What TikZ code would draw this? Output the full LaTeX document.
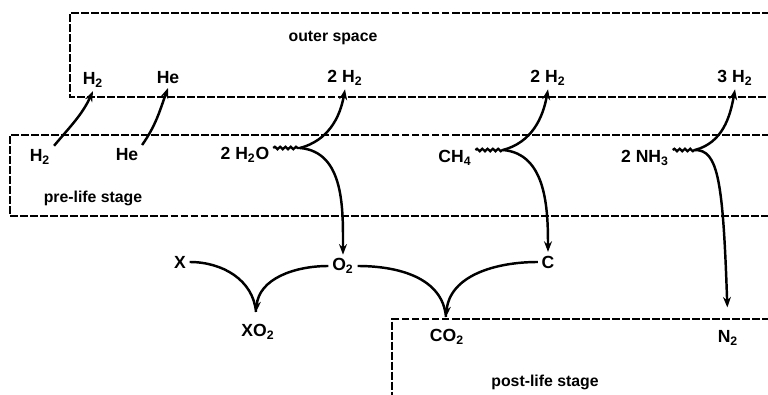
\documentclass[tikz,border=0pt]{standalone}
\usepackage{fontspec}
\setmainfont{Liberation Sans}
\usetikzlibrary{arrows.meta, positioning, decorations.pathmorphing}

\begin{document}
\begin{tikzpicture}[x=0.02cm, y=0.02cm,
  chem/.style={font=\fontsize{10}{12}\selectfont\bfseries, inner sep=2pt},
  lbl/.style={font=\fontsize{9}{11}\selectfont\bfseries},
  zone/.style={draw, line width=1.6pt, dash pattern=on 4.5pt off 1.2pt},
  link/.style={line width=1.4pt},
  flow/.style={link, -{Stealth[length=6pt,width=4.5pt]}},
  wavy/.style={line width=1.3pt, decorate,
               decoration={snake, amplitude=0.7pt, segment length=3pt}},
]
  \useasboundingbox (0,0) rectangle (768,395);
  \clip (0,0) rectangle (768,395);

  % compartments
  \draw[zone] (800,382) -- (70,382) -- (70,298) -- (800,298);
  \draw[zone] (800,260) -- (10,260) -- (10,179) -- (800,179);
  \draw[zone] (800,76) -- (392,76) -- (392,-20);

  \node[lbl] (space) at (333,357) {outer space};
  \node[lbl] (pre)   at (93,197)  {pre-life stage};
  \node[lbl] (post)  at (545,13)  {post-life stage};

  % outer space
  \node[chem] (oH2) at (93,315)  {H\textsubscript{2}};
  \node[chem] (oHe) at (168,317) {He};
  \node[chem] (oA)  at (345,317) {2 H\textsubscript{2}};
  \node[chem] (oB)  at (548,317) {2 H\textsubscript{2}};
  \node[chem] (oC)  at (735,317) {3 H\textsubscript{2}};

  % pre-life stage
  \node[chem] (pH2) at (40,238)  {H\textsubscript{2}};
  \node[chem] (pHe) at (127,240) {He};
  \node[chem] (h2o) at (245,240) {2 H\textsubscript{2}O};
  \node[chem] (ch4) at (455,237) {CH\textsubscript{4}};
  \node[chem] (nh3) at (645,237) {2 NH\textsubscript{3}};

  % products
  \node[chem] (X)   at (180,133) {X};
  \node[chem] (O2)  at (343,129) {O\textsubscript{2}};
  \node[chem] (C)   at (548,133) {C};
  \node[chem] (XO2) at (258,63)  {XO\textsubscript{2}};
  \node[chem] (CO2) at (447,58)  {CO\textsubscript{2}};
  \node[chem] (N2)  at (728,57)  {N\textsubscript{2}};

  \coordinate (j1) at (300,247);
  \coordinate (j2) at (503,245);
  \coordinate (j3) at (695,245);
  \coordinate (m1) at (256,83);
  \coordinate (m2) at (446,78);

  % escape
  \draw[flow] (pH2.north east) to[out=50,in=-115] (oH2.south);
  \draw[flow] (pHe.north east) to[out=55,in=-110] (oHe.south);

  % splitting
  \draw[wavy] (h2o.east |- j1) -- (j1);
  \draw[wavy] (ch4.east |- j2) -- (j2);
  \draw[wavy] (nh3.east |- j3) -- (j3);
  \draw[flow] (j1) to[out=15,in=-100] (oA.south);
  \draw[flow] (j2) to[out=15,in=-100] (oB.south);
  \draw[flow] (j3) to[out=15,in=-100] (oC.south);
  \draw[flow] (j1) to[out=-5,in=90] (O2.north);
  \draw[flow] (j2) to[out=-5,in=90] (C.north);
  \draw[flow, shorten >=11pt] (j3) .. controls (718,245) and (723,215) .. (N2.north);

  % oxidation
  \draw[link] (X.east) to[out=0,in=95] (m1);
  \draw[flow] (O2.west) to[out=180,in=85] (m1);
  \draw[link] (O2.east) to[out=0,in=95] (m2);
  \draw[flow] (C.west) to[out=180,in=85] (m2);
\end{tikzpicture}
\end{document}
